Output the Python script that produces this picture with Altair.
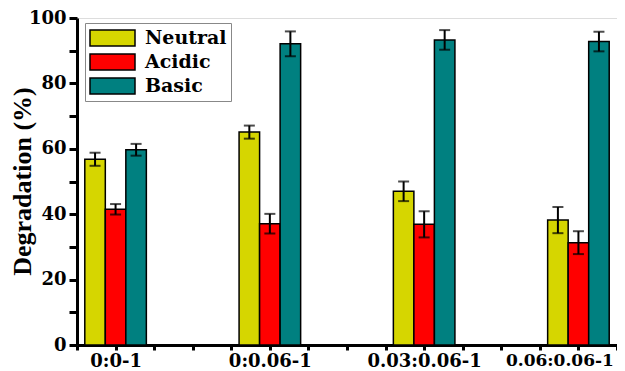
import altair as alt
import pandas as pd

groups = ["0:0-1", "0:0.06-1", "0.03:0.06-1", "0.06:0.06-1"]
series = ["Neutral", "Acidic", "Basic"]
colors = ["#D6D600", "#FF0000", "#008080"]
neutral = [56.8, 65.1, 47.0, 38.2]
acidic = [41.5, 37.1, 36.9, 31.3]
basic = [59.7, 92.1, 93.3, 92.8]
neutral_err = [2.0, 2.0, 3.0, 4.0]
acidic_err = [1.6, 3.0, 4.0, 3.5]
basic_err = [1.8, 3.8, 3.0, 3.0]

rows = []
for s_i, (name, vals, errs) in enumerate(zip(series, [neutral, acidic, basic], [neutral_err, acidic_err, basic_err])):
    for g_i, g in enumerate(groups):
        rows.append({"group": g, "gi": g_i + 1, "si": s_i - 1, "series": name,
                     "value": vals[g_i], "err": errs[g_i]})
df = pd.DataFrame(rows)

bw = 0.133
FONT = "DejaVu Serif"

label_expr = " : ".join(
    [f"abs(datum.value - {i+1}) < 0.01 ? '{g}'" for i, g in enumerate(groups)]) + " : ''"
last_test = f"abs(datum.value - {len(groups)}) < 0.01"

xscale = alt.Scale(domain=[0.75, 4.25], nice=False, zero=False)
yscale = alt.Scale(domain=[0, 100], nice=False)

base = alt.Chart(df).transform_calculate(
    xc=f"datum.gi + datum.si * {bw}",
    x0=f"datum.gi + datum.si * {bw} - {bw/2}",
    x1=f"datum.gi + datum.si * {bw} + {bw/2}",
    lo="datum.value - datum.err",
    hi="datum.value + datum.err",
)

xaxis = alt.Axis(
    title=None,
    values=[0.75 + 0.25 * k for k in range(15)],
    tickCount=40,
    labelExpr=label_expr,
    labelFont=FONT, labelFontWeight="bold", labelColor="black",
    labelFontSize={"condition": {"test": last_test, "value": 17}, "value": 18},
    labelPadding=2, labelFlush=False, labelOverlap=False,
    labelOffset={"condition": {"test": last_test, "value": -19}, "value": 0},
    domainColor="black", domainWidth=3,
    tickColor="black", tickWidth=3, tickSize=5, grid=False,
)
yaxis = alt.Axis(
    title="Degradation (%)",
    values=list(range(0, 101, 10)),
    tickCount=40,
    labelExpr="datum.value % 20 == 0 ? datum.value : ''",
    labelFont=FONT, labelFontWeight="bold", labelFontSize=18, labelColor="black",
    labelPadding=3,
    titleFont="Liberation Serif", titleFontWeight="bold", titleFontSize=26,
    titleColor="black", titleX=-55, titleY=163, titleBaseline="middle",
    domainColor="black", domainWidth=3,
    tickColor="black", tickWidth=3, tickSize=8, grid=False,
)

bars = base.mark_bar(stroke="black", strokeWidth=1.5).encode(
    x=alt.X("x0:Q", scale=xscale, axis=xaxis),
    x2="x1:Q",
    y=alt.Y("value:Q", scale=yscale, axis=yaxis),
    y2=alt.datum(0),
    fill=alt.Fill("series:N",
                  scale=alt.Scale(domain=series, range=colors),
                  sort=series,
                  legend=alt.Legend(
                      title=None, orient="none", legendX=8, legendY=5,
                      direction="vertical",
                      symbolType="M-1,-0.8L3.5,-0.8L3.5,0.8L-1,0.8Z",
                      symbolSize=400, symbolStrokeColor="black",
                      symbolStrokeWidth=1.5, symbolOpacity=1,
                      labelFont=FONT, labelFontWeight="bold", labelFontSize=19,
                      labelColor="black", labelOffset=34,
                      rowPadding=2, padding=4,
                      strokeColor="#888888", fillColor="white",
                  )),
)

err_rule = base.mark_rule(color="black", strokeWidth=2).encode(
    x="xc:Q", y="lo:Q", y2="hi:Q")
err_lo = base.mark_tick(color="black", orient="horizontal", size=11, thickness=2).encode(
    x="xc:Q", y="lo:Q")
err_hi = base.mark_tick(color="black", orient="horizontal", size=11, thickness=2).encode(
    x="xc:Q", y="hi:Q")

chart = alt.layer(bars, err_rule, err_lo, err_hi).properties(
    width=540, height=327,
    autosize=alt.AutoSizeParams(type="none"),
    padding={"left": 69, "top": 10, "right": 0, "bottom": 26},
).configure_view(
    stroke="black", strokeWidth=3
).configure(background="white")

chart.save("out.html", embed_options={"renderer": "svg", "actions": False})
